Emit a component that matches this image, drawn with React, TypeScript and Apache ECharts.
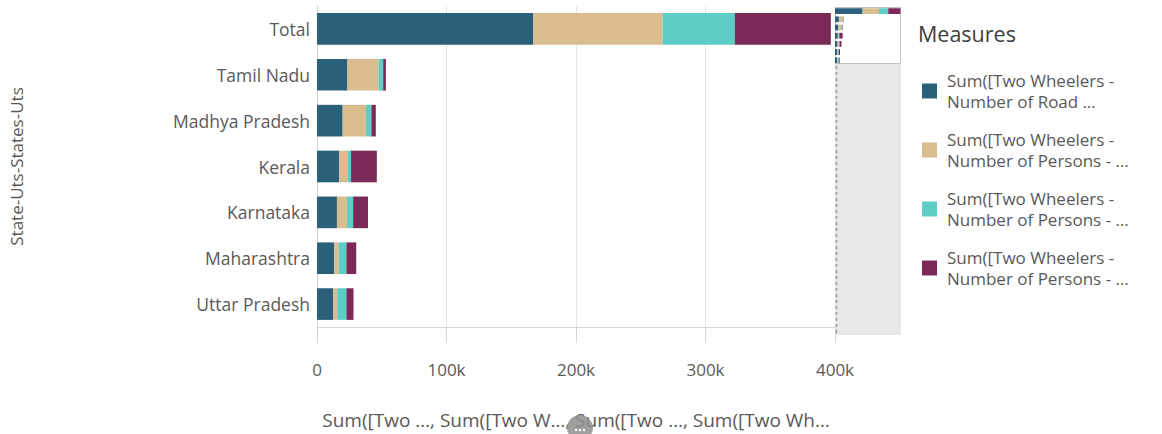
import React, { useEffect, useRef } from "react";
import * as echarts from "echarts";

const categories = ["Total", "Tamil Nadu", "Madhya Pradesh", "Kerala", "Karnataka", "Maharashtra", "Uttar Pradesh"];
const roadAccidents = [167000, 23500, 19800, 17200, 15400, 13300, 12500];
const personsA = [99800, 24000, 18000, 6500, 7800, 3400, 3100];
const personsB = [55800, 3600, 4200, 2600, 4700, 6000, 7100];
const personsC = [74200, 2100, 3400, 19900, 11500, 7600, 5500];

const legendLabels = [
  "Sum([Two Wheelers -\nNumber of Road …",
  "Sum([Two Wheelers -\nNumber of Persons - …",
  "Sum([Two Wheelers -\nNumber of Persons - …",
  "Sum([Two Wheelers -\nNumber of Persons - …",
];
const colors = ["#2a6079", "#d9bd8f", "#5ecdc6", "#7b2a57"];
const xTicks = [0, 100000, 200000, 300000, 400000];
const miniRowCount = 40;

const FONT = "'Open Sans', sans-serif";

export default function App() {
  const ref = useRef<HTMLDivElement>(null);
  useEffect(() => {
    if (!ref.current) return;
    const chart = echarts.init(ref.current, null, { renderer: "svg" });
    const values = [roadAccidents, personsA, personsB, personsC];
    const names = legendLabels.map((l, i) => l + "\u200b".repeat(i));
    const miniCats = Array.from({ length: miniRowCount }, (_, i) => (i < categories.length ? categories[i] : "r" + i));

    const mainSeries = values.map((v, i) => ({
      type: "bar",
      name: names[i],
      stack: "main",
      data: v,
      barCategoryGap: "31%",
      itemStyle: { color: colors[i] },
      xAxisIndex: 0,
      yAxisIndex: 0,
    }));
    const miniSeries = values.map((v, i) => ({
      type: "bar",
      name: names[i],
      stack: "mini",
      data: v,
      barCategoryGap: "30%",
      itemStyle: { color: colors[i] },
      xAxisIndex: 1,
      yAxisIndex: 1,
      z: 5,
    }));

    chart.setOption({
      animation: false,
      textStyle: { fontFamily: FONT },
      title: {
        text: "Measures",
        left: 913,
        top: 17,
        textStyle: { fontFamily: FONT, fontSize: 21.5, fontWeight: "normal", color: "#404040" },
      },
      legend: {
        orient: "vertical",
        left: 917,
        top: 65,
        icon: "rect",
        itemWidth: 15,
        itemHeight: 15,
        itemGap: 17,
        data: names,
        selectedMode: false,
        formatter: (n: string) => n.replace(/\u200b/g, ""),
        textStyle: { fontFamily: FONT, fontSize: 17, color: "#595959", lineHeight: 21, padding: [0, 0, 0, 5] },
      },
      grid: [
        { left: 317, top: 6, width: 518, height: 328, containLabel: false },
        { left: 835, top: 7, width: 66, height: 328, containLabel: false },
      ],
      xAxis: [
        {
          type: "value",
          gridIndex: 0,
          min: xTicks[0],
          max: xTicks[xTicks.length - 1],
          interval: 100000,
          name: "Sum([Two …, Sum([Two W…, Sum([Two …, Sum([Two Wh…",
          nameLocation: "middle",
          nameGap: 83,
          nameTextStyle: { fontFamily: FONT, fontSize: 19, color: "#595959" },
          axisLine: { show: true, lineStyle: { color: "#d6d6d6", width: 1 } },
          axisTick: { show: true, length: 16, lineStyle: { color: "#d6d6d6" } },
          axisLabel: {
            margin: 34,
            fontFamily: FONT,
            fontSize: 17,
            color: "#595959",
            formatter: (v: number) => (v === 0 ? "0" : v / 1000 + "k"),
          },
          splitLine: { show: true, lineStyle: { color: "#e4e4e4", width: 1 } },
        },
        {
          type: "value",
          gridIndex: 1,
          min: 0,
          max: 400000,
          show: false,
          splitLine: { show: false },
        },
      ],
      yAxis: [
        {
          type: "category",
          gridIndex: 0,
          data: categories,
          inverse: true,
          name: "State-Uts-States-Uts",
          nameLocation: "middle",
          nameRotate: 90,
          nameGap: 292,
          nameTextStyle: { fontFamily: FONT, fontSize: 17, color: "#595959" },
          axisLine: { show: true, lineStyle: { color: "#d6d6d6" } },
          axisTick: { show: false },
          axisLabel: { margin: 7, fontFamily: FONT, fontSize: 17.5, color: "#595959" },
        },
        {
          type: "category",
          gridIndex: 1,
          data: miniCats,
          inverse: true,
          show: false,
        },
      ],
      graphic: [
        { type: "rect", z: 0, shape: { x: 835, y: 7, width: 66, height: 328 }, style: { fill: "#e8e8e8" } },
        { type: "rect", z: 1, shape: { x: 835.5, y: 7.5, width: 65, height: 56 }, style: { fill: "#ffffff", stroke: "#c4c4c4", lineWidth: 1 } },
        { type: "line", z: 2, shape: { x1: 836.5, y1: 66, x2: 836.5, y2: 334 }, style: { stroke: "#8799a5", lineWidth: 1.5, lineDash: [3, 3] } },
        { type: "circle", z: 100, shape: { cx: 580, cy: 428, r: 13 }, style: { fill: "#8f8f8f", opacity: 0.85 } },
        { type: "circle", z: 101, shape: { cx: 576, cy: 430, r: 1.2 }, style: { fill: "#ffffff" } },
        { type: "circle", z: 101, shape: { cx: 580, cy: 430, r: 1.2 }, style: { fill: "#ffffff" } },
        { type: "circle", z: 101, shape: { cx: 584, cy: 430, r: 1.2 }, style: { fill: "#ffffff" } },
      ],
      series: [...mainSeries, ...miniSeries],
    });
    return () => chart.dispose();
  }, []);
  return <div ref={ref} style={{ position: "fixed", left: 0, top: 0, width: 1162, height: 434, background: "#fff" }} />;
}
